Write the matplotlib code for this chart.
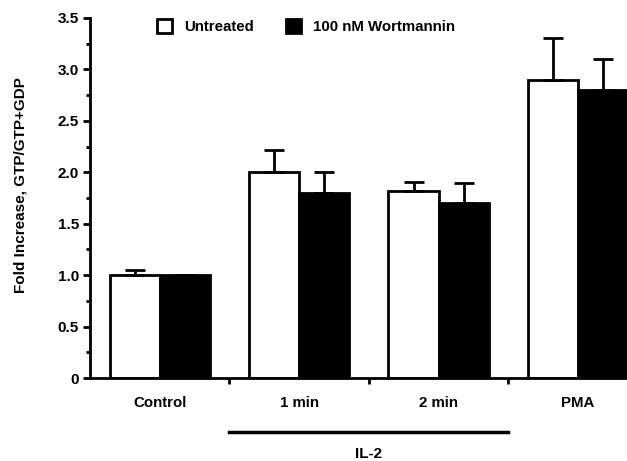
import matplotlib
matplotlib.use("Agg")
import matplotlib.pyplot as plt
import numpy as np
from matplotlib.ticker import MultipleLocator, FixedLocator

categories = ["Control", "1 min", "2 min", "PMA"]
untreated = [1.0, 2.0, 1.82, 2.9]
untreated_err = [0.05, 0.22, 0.09, 0.41]
wortmannin = [1.0, 1.8, 1.7, 2.8]
wortmannin_err = [0.0, 0.2, 0.2, 0.3]
series_labels = ["Untreated", "100 nM Wortmannin"]
yticks = [0, 0.5, 1.0, 1.5, 2.0, 2.5, 3.0, 3.5]
ytick_labels = ["0", "0.5", "1.0", "1.5", "2.0", "2.5", "3.0", "3.5"]

plt.rcParams['font.family'] = ['Liberation Sans', 'DejaVu Sans']
plt.rcParams['font.weight'] = 'bold'

fig = plt.figure(figsize=(6.27, 4.61), dpi=100)
ax = fig.add_axes([0.1435, 0.18, 0.8565, 0.781])

x = np.arange(len(categories))
w = 0.36
ax.bar(x - w/2, untreated, w, color='white', edgecolor='black', linewidth=2,
       yerr=[np.zeros(len(x)), untreated_err], error_kw=dict(ecolor='black', elinewidth=2, capsize=7, capthick=2),
       label=series_labels[0], zorder=2)
ax.bar(x + w/2, wortmannin, w, color='black', edgecolor='black', linewidth=2,
       yerr=[np.zeros(len(x)), wortmannin_err], error_kw=dict(ecolor='black', elinewidth=2, capsize=7, capthick=2),
       label=series_labels[1], zorder=2)

ax.set_xlim(-0.5, 3.35)
ax.set_ylim(0, 3.5)
ax.spines['top'].set_visible(False)
ax.spines['right'].set_visible(False)
ax.spines['left'].set_linewidth(2)
ax.spines['bottom'].set_linewidth(2)

ax.yaxis.set_major_locator(FixedLocator(yticks))
ax.set_yticklabels(ytick_labels, fontsize=11, fontweight='bold')
ax.yaxis.set_minor_locator(MultipleLocator(0.25))
ax.tick_params(axis='y', which='major', direction='out', length=5, width=2, pad=3)
ax.tick_params(axis='y', which='minor', direction='out', length=3, width=2)

ax.set_xticks(x)
ax.set_xticklabels(categories, fontsize=10.8, fontweight='bold')
ax.tick_params(axis='x', which='major', length=0, pad=13)
ax.xaxis.set_minor_locator(FixedLocator([0.5, 1.5, 2.5]))
ax.tick_params(axis='x', which='minor', direction='out', length=4, width=2)

ax.set_ylabel("Fold Increase, GTP/GTP+GDP", fontsize=11, fontweight='bold')
ax.yaxis.set_label_coords(-0.117, 0.536)

ax.plot([0.5, 2.5], [-0.526, -0.526], color='black', linewidth=2.5, clip_on=False)
ax.text(1.5, -0.74, "IL-2", ha='center', va='center', fontsize=11, fontweight='bold')

leg = ax.legend(loc='upper left', bbox_to_anchor=(0.099, 1.034), ncol=2, frameon=False,
                fontsize=10.8, handlelength=1.0, handleheight=1.0, columnspacing=2.2, handletextpad=0.8)
for t in leg.get_texts():
    t.set_fontweight('bold')

fig.savefig("out.png", dpi=100)
